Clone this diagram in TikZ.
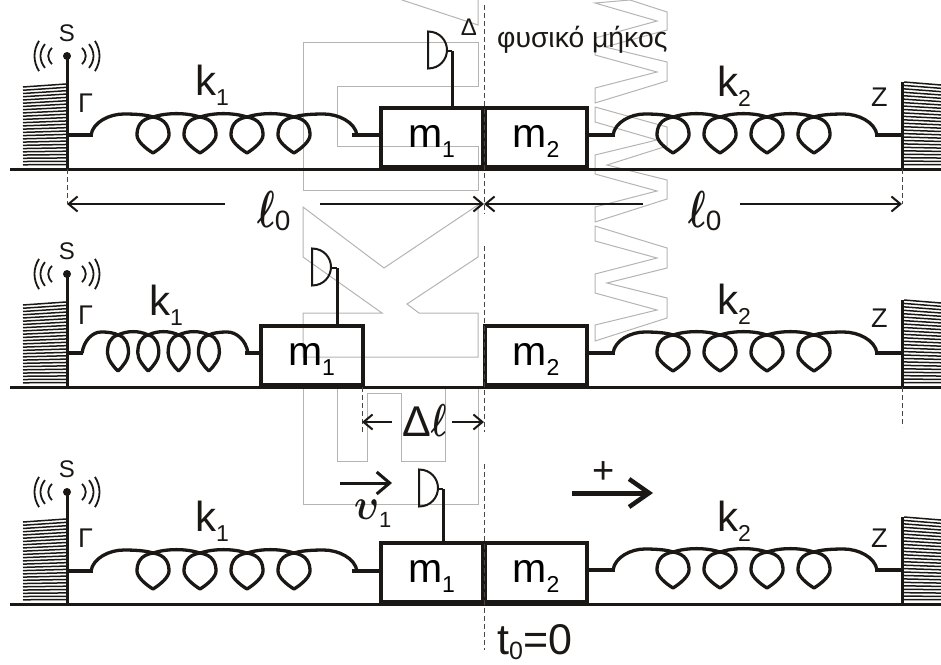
\documentclass[tikz,border=0pt]{standalone}
\usepackage{fix-cm}
\usepackage{graphicx}
\usepackage{fontspec}
\setmainfont{Liberation Sans}
\usetikzlibrary{arrows.meta}

\definecolor{ink}{HTML}{1A1714}
\definecolor{faintgray}{HTML}{B4B4B4}

\newcommand{\fsz}[1]{\fontsize{#1}{#1}\selectfont}
\newcommand{\lowsub}[1]{\raisebox{-10pt}{\fsz{23}#1}}
\newcommand{\boldsym}[1]{{\boldmath$#1$}}
\newcommand{\narrowell}{\scalebox{.72}[1]{\boldsym{\ell}}}

% #1 x left, #2 x right, #3 y at left, #4 y at right, #5 y bottom
\newcommand{\hatching}[5]{
  \foreach \i in {0,...,24}
    \draw[hatchline] ({#1},{(#3)+\i*((#5)-(#3))/25}) -- ({#2},{(#4)+\i*((#5)-(#4))/25});
}
% #1 left end, #2 right end, #3 y, #4 first loop, #5 pitch, #6 half width
\newcommand{\coilspring}[6]{
  \draw[spring] ({#1},{#3}) .. controls ({#1+2},{#3-13}) and ({#1+(#4-#1)*.3},{#3-21}) .. ({#1+(#4-#1)*.53},{#3-21})
     .. controls ({#1+(#4-#1)*.75},{#3-21}) and ({#1+(#4-#1)*.9},{#3-20}) .. ({#4},{#3-18});
  \draw[spring] ({#2},{#3}) .. controls ({#2-2},{#3-13}) and ({#2-(#2-#4-3*#5)*.3},{#3-21}) .. ({#2-(#2-#4-3*#5)*.53},{#3-21})
     .. controls ({#2-(#2-#4-3*#5)*.75},{#3-21}) and ({#2-(#2-#4-3*#5)*.9},{#3-20}) .. ({#4+3*#5},{#3-18});
  \foreach \n in {0,1,2,3}{
    \draw[spring] ({#4+\n*#5},{#3-18}) .. controls ({#4+\n*#5+#6*.8},{#3-16}) and ({#4+\n*#5+#6},{#3-8}) .. ({#4+\n*#5+#6},{#3})
       .. controls ({#4+\n*#5+#6},{#3+6}) and ({#4+\n*#5+#6*.5},{#3+13}) .. ({#4+\n*#5},{#3+18})
       .. controls ({#4+\n*#5-#6*.5},{#3+13}) and ({#4+\n*#5-#6},{#3+6}) .. ({#4+\n*#5-#6},{#3})
       .. controls ({#4+\n*#5-#6},{#3-8}) and ({#4+\n*#5-#6*.8},{#3-16}) .. cycle;
  }
  \foreach \n in {0,1,2}
    \draw[spring] ({#4+\n*#5},{#3-18}) .. controls ({#4+\n*#5+#5*.3},{#3-22.5}) and ({#4+\n*#5+#5*.7},{#3-22.5}) .. ({#4+\n*#5+#5},{#3-18});
}
% #1 flat side x, #2 y, #3 stem x, #4 mass node
\newcommand{\detector}[4]{
  \draw[dish] ({#1},{#2-18.5}) .. controls ({#1+12},{#2-18.5}) and ({#1+19},{#2-9}) .. ({#1+19},{#2})
     .. controls ({#1+19},{#2+9}) and ({#1+12},{#2+18.5}) .. ({#1},{#2+18.5}) -- cycle;
  \coordinate (stem#4) at ({#3},{#2+1});
  \draw[dish] ({#1+19},{#2+1}) -- (stem#4);
  \draw[stemline] (stem#4) -- (stem#4 |- #4.north);
}
% #1 y of the dot
\newcommand{\waves}[1]{
  \foreach \s/\a/\b in {-1/28/32, -1/22/26, -1/15/18, 1/15/18, 1/22/26, 1/28/32}{
    \pgfmathsetmacro{\h}{\a*.54}
    \draw[dish,line width=1.8] ({67+\s*\a},{#1-\h}) .. controls ({67+\s*(\b+2)},{#1-\h*.35}) and ({67+\s*(\b+2)},{#1+\h*.35}) .. ({67+\s*\a},{#1+\h});
  }
}

\tikzset{
  hatchline/.style={ink,line width=1.5},
  floor/.style={ink,line width=3},
  wall/.style={ink,line width=3},
  spring/.style={ink,line width=3.3,line join=round},
  stub/.style={ink,line width=3.3},
  dish/.style={ink,line width=2},
  stemline/.style={ink,line width=3},
  dashline/.style={ink!80,line width=.9,dash pattern=on 5pt off 3pt},
  dim/.style={ink,line width=2,>={Straight Barb[length=9pt,width=15pt,line width=2pt]}},
  mass/.style={draw=ink,line width=4,minimum width=102,minimum height=59,inner sep=0,
               text height=26,text depth=6,font=\fsz{41}},
  label big/.style={anchor=base west,inner sep=0,font=\fsz{42},text=ink},
  label mid/.style={anchor=base west,inner sep=0,font=\fsz{27},text=ink},
  label small/.style={anchor=base,inner sep=0,font=\fsz{24},text=ink},
  marktrace/.style={faintgray,line width=1},
}

\begin{document}
\begin{tikzpicture}[x=1pt,y=-1pt]
  \useasboundingbox (0,0) rectangle (941,664);

  % faint mark behind the drawing
  \draw[marktrace] (402,0) -- (478,25) -- (478,0);
  \draw[marktrace] (303,42) -- (478,42) -- (478,86) -- (337,86) -- (337,146) -- (478,146) -- (478,190) -- (303,190) -- cycle;
  \draw[marktrace] (303,207) -- (384,268) -- (478,205) -- (478,257) -- (407,304) -- (419,313) -- (478,313) -- (478,357)
     -- (303,357) -- (303,313) -- (382,313) -- (303,257) -- cycle;
  \draw[marktrace] (303,387) -- (303,504) -- (478,504) -- (478,387);
  \draw[marktrace] (337,387) -- (337,461) -- (367,461) -- (367,393) -- (401,393) -- (401,461) -- (445,461) -- (445,387);
  \draw[marktrace] (630,0) -- (595,3) -- (657,21) -- (595,38) -- (595,55) -- (657,72) -- (595,88) -- (595,103) -- (667,81)
     -- (667,62) -- (605,47) -- (667,30) -- (667,12) -- (630,0);
  \draw[marktrace] (595,107) -- (595,122) -- (657,140) -- (595,155) -- (595,174) -- (657,191) -- (595,207) -- (595,222)
     -- (667,199) -- (667,180) -- (607,165) -- (667,146) -- (667,127) -- cycle;
  \draw[marktrace] (595,226) -- (595,241) -- (657,258) -- (595,274) -- (595,293) -- (657,310) -- (595,325) -- (595,341)
     -- (667,318) -- (667,298) -- (607,283) -- (667,268) -- (667,248) -- cycle;

  % parts common to the three rows
  \foreach \row/\yg/\ydot/\yzed/\ygam in {a/169/56/106/112, b/387/274/327/324, c/604/492/547/547}{
    \coordinate (floorL\row) at (10,\yg);
    \coordinate (floorR\row) at (941,\yg);
    \draw[floor] (floorL\row) -- (floorR\row);

    \hatching{23}{66}{\yg-82}{\yg-85}{\yg-1}
    \hatching{904}{941}{\yg-87}{\yg-84}{\yg-1}

    \node[circle,fill=ink,inner sep=0,minimum size=8] (dot\row) at (67,\ydot) {};
    \node[label small] (S\row) at (67,\ydot-15) {S};
    \waves{\ydot}
    \coordinate (wallL\row) at (67,\yg);
    \draw[wall] (dot\row.center) -- (wallL\row);
    \coordinate (wallTop\row) at (902,\yg-87);
    \coordinate (wallR\row) at (902,\yg);
    \draw[wall] (wallTop\row) -- (wallR\row);

    \node[mass] (mtwo\row) at (536,\yg-31.5) {m\lowsub{2}};
    \coordinate (startR\row) at (615,\yg-34);
    \coordinate (endR\row) at (875,\yg-34);
    \draw[stub] (startR\row) -- (startR\row -| mtwo\row.east);
    \draw[stub] (endR\row) -- (endR\row -| wallR\row);
    \coilspring{613}{877}{\yg-34}{673}{47}{16}

    \node[label big] (ktwo\row) at (717,\yg-73) {k\lowsub{2}};
    \node[label mid] (Z\row) at (871,\yzed) {Z};
    \node[label mid] (G\row) at (78,\ygam) {Γ};
  }

  % first row
  \node[mass] (mone1) at (431.5,137.5) {m\lowsub{1}};
  \coordinate (startL1) at (93,135);
  \coordinate (endL1) at (352,135);
  \draw[stub] (startL1) -- (startL1 -| wallLa);
  \draw[stub] (endL1) -- (endL1 -| mone1.west);
  \coilspring{91}{357}{135}{153}{47}{16}
  \node[label big] (kone1) at (195,95) {k\lowsub{1}};
  \detector{428}{50}{452}{mone1}

  % second row
  \node[mass] (mone2) at (311.5,355.5) {m\lowsub{1}};
  \coordinate (startL2) at (83,353);
  \coordinate (endL2) at (245,353);
  \draw[stub] (startL2) -- (startL2 -| wallLb);
  \draw[stub] (endL2) -- (endL2 -| mone2.west);
  \coilspring{82}{248}{353}{118}{30.3}{10.5}
  \node[label big] (kone2) at (149,315) {k\lowsub{1}};
  \detector{312}{267}{337}{mone2}

  % third row
  \node[mass] (mone3) at (431.5,572.5) {m\lowsub{1}};
  \coordinate (startL3) at (93,571);
  \coordinate (endL3) at (352,571);
  \draw[stub] (startL3) -- (startL3 -| wallLc);
  \draw[stub] (endL3) -- (endL3 -| mone3.west);
  \coilspring{91}{357}{571}{153}{47}{16}
  \node[label big] (kone3) at (195,531) {k\lowsub{1}};
  \detector{419}{488}{443}{mone3}

  % dashed guides
  \coordinate (guideA) at (484,5);
  \coordinate (guideB) at (484,214);
  \coordinate (guideC) at (484,246);
  \coordinate (guideD) at (484,432);
  \coordinate (guideE) at (484,464);
  \coordinate (guideF) at (484,650);
  \draw[dashline] (guideA) -- (guideB);
  \draw[dashline] (guideC) -- (guideD);
  \draw[dashline] (guideE) -- (guideF);
  \coordinate (dimLa) at (67,204);
  \coordinate (dimRa) at (902,204);
  \draw[dashline] (wallLa) -- (dimLa);
  \draw[dashline] (wallRa) -- (dimRa);
  \coordinate (dimRb) at (902,427);
  \draw[dashline] (wallRb) -- (dimRb);
  \coordinate (gapL) at (362,422);
  \coordinate (gapM) at (484,422);
  \draw[dashline] (362,387) -- (362,432);

  % lengths
  \node[anchor=base west,inner sep=0,text=ink] (ellA) at (257,227) {\fsz{52}\narrowell\raisebox{-3pt}{\fsz{28}0}};
  \node[anchor=base west,inner sep=0,text=ink] (ellB) at (688,227) {\fsz{52}\narrowell\raisebox{-3pt}{\fsz{28}0}};
  \coordinate (midA) at (484,204);
  \draw[dim,<-] (dimLa) -- (225,204);
  \draw[dim,->] (320,204) -- (midA);
  \draw[dim,<-] (midA) -- (643,204);
  \draw[dim,->] (740,204) -- (dimRa);
  \node[anchor=base west,inner sep=0,text=ink] (dl) at (402,436) {\fsz{43}Δ\fsz{46}\narrowell};
  \draw[dim,<-] (gapL) -- (392,422);
  \draw[dim,->] (452,422) -- (gapM);

  % texts and arrows on top
  \node[label small] (Delta) at (469,35) {Δ};
  \node[anchor=base west,inner sep=0,font=\fsz{28.3},text=ink] (natural) at (497,47) {φυσικό μήκος};
  \node[anchor=base west,inner sep=0,text=ink] (vel) at (354,519) {\fsz{44}\scalebox{.85}[1]{\boldsym{\upsilon}}\raisebox{-8pt}{\fsz{22}1}};
  \draw[ink,line width=3,-{Straight Barb[length=13pt,width=22pt,line width=3pt]}] (340,483) -- (392,483);
  \node[anchor=base,inner sep=0,font=\fsz{38},text=ink] (plus) at (604,483) {+};
  \draw[ink,line width=5,-{Straight Barb[length=20pt,width=28pt,line width=4.5pt]}] (572,493) -- (653,493);
  \node[anchor=base west,inner sep=0,font=\fsz{43},text=ink] (tzero) at (497,654) {t\raisebox{-5pt}{\fsz{25}0}=0};
\end{tikzpicture}
\end{document}
